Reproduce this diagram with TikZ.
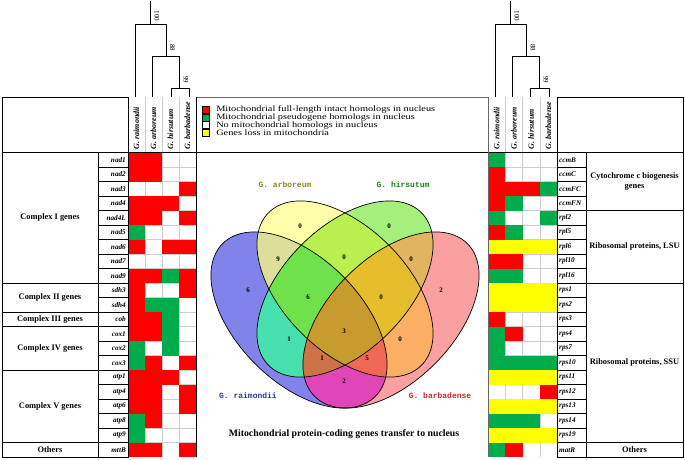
\documentclass[tikz,border=0pt]{standalone}
\usepackage{fontspec}
\setmainfont{Liberation Serif}
\setmonofont{Liberation Mono}
\definecolor{cR}{RGB}{255,0,0}
\definecolor{cG}{RGB}{0,172,75}
\definecolor{cY}{RGB}{255,255,0}
\definecolor{cW}{RGB}{255,255,255}
\definecolor{gridc}{RGB}{205,205,205}
\definecolor{vB}{RGB}{130,130,235}
\definecolor{vY}{RGB}{255,255,170}
\definecolor{vG}{RGB}{165,240,125}
\definecolor{vR}{RGB}{250,160,160}
\definecolor{vBY}{RGB}{222,222,155}
\definecolor{vBG}{RGB}{70,225,175}
\definecolor{vBR}{RGB}{225,70,185}
\definecolor{vYG}{RGB}{185,240,80}
\definecolor{vYR}{RGB}{250,175,100}
\definecolor{vGR}{RGB}{225,180,95}
\definecolor{vBYG}{RGB}{110,225,75}
\definecolor{vBYR}{RGB}{240,105,85}
\definecolor{vBGR}{RGB}{205,115,70}
\definecolor{vYGR}{RGB}{230,190,45}
\definecolor{vBYGR}{RGB}{200,155,45}
\definecolor{tArb}{RGB}{140,140,20}
\definecolor{tHir}{RGB}{20,130,20}
\definecolor{tRai}{RGB}{40,60,140}
\definecolor{tBar}{RGB}{190,40,40}
\newcommand{\hmcell}[4]{\if#2W\else\fill[c#2] (#1,#3) rectangle ++(#4,14.5);\fi}
\newcommand{\eB}[1]{\path[#1,rotate around={-45:(299,320)}] (299,320) ellipse [x radius=108pt,y radius=62pt];}
\newcommand{\eY}[1]{\path[#1,rotate around={-45:(345,289)}] (345,289) ellipse [x radius=108pt,y radius=62pt];}
\newcommand{\eG}[1]{\path[#1,rotate around={45:(345,289)}] (345,289) ellipse [x radius=108pt,y radius=62pt];}
\newcommand{\eR}[1]{\path[#1,rotate around={45:(391,320)}] (391,320) ellipse [x radius=108pt,y radius=62pt];}
\tikzset{
  genebox/.style={draw=black,line width=0.6pt},
  catbox/.style={draw=black,line width=1pt},
  genelbl/.style={font=\fontsize{7.2}{8}\selectfont\bfseries\itshape,inner sep=0pt},
  catlbl/.style={font=\fontsize{8.4}{10}\selectfont\bfseries,align=center,inner sep=0pt},
  hdrlbl/.style={font=\fontsize{8}{9}\selectfont\bfseries\itshape,rotate=90,anchor=west,inner sep=0pt},
  boot/.style={font=\fontsize{7}{8}\selectfont,rotate=-90,inner sep=0pt},
  leglbl/.style={font=\fontsize{8.2}{9}\selectfont,anchor=west,inner sep=0pt,xscale=1.26},
  legsq/.style={draw=black,line width=0.5pt,minimum size=7pt,inner sep=0pt},
  vnum/.style={font=\fontsize{7}{8}\selectfont\bfseries,inner sep=0pt},
  vlab/.style={font=\fontsize{8}{9}\selectfont\ttfamily\bfseries,inner sep=0pt},
  dend/.style={line width=0.9pt},
  gridl/.style={draw=gridc,line width=0.5pt},
  vline/.style={draw=black,line width=0.7pt}
}
\begin{document}
\begin{tikzpicture}[x=1pt,y=-1pt]
\useasboundingbox (0,0) rectangle (685,460);
% ---------- heatmap grids ----------
\foreach \x in {128,145,162,179} \draw[gridl] (\x,97) -- (\x,457);
\foreach \x in {505.25,522.5,539.75} \draw[gridl] (\x,97) -- (\x,457);
\foreach \n in {1,...,20}{
  \pgfmathsetmacro\yy{152.5+\n*14.5}
  \draw[gridl] (128,\yy) -- (196,\yy);
  \draw[gridl] (488,\yy) -- (557,\yy);
}
% ---------- left table ----------
\foreach \g/\ka/\kb/\kc/\kd [count=\i from 0] in {nad1/R/R/W/W,nad2/R/R/W/W,nad3/W/W/W/R,nad4/R/R/R/W,nad4L/R/R/W/R,nad5/G/W/W/W,nad6/R/W/R/R,nad7/W/W/W/W,nad9/R/R/G/R,sdh3/R/W/W/R,sdh4/R/G/G/W,cob/R/R/G/W,cox1/R/R/G/W,cox2/G/W/G/W,cox3/G/R/W/R,atp1/R/R/R/W,atp4/R/R/W/R,atp6/R/R/W/R,atp8/G/R/W/W,atp9/G/W/W/W,mttB/R/R/W/R}{
  \pgfmathsetmacro\yt{152.5+\i*14.5}
  \pgfmathsetmacro\ym{\yt+7.25}
  \hmcell{128}{\ka}{\yt}{17}
  \hmcell{145}{\kb}{\yt}{17}
  \hmcell{162}{\kc}{\yt}{17}
  \hmcell{179}{\kd}{\yt}{17}
  \draw[genebox] (98,\yt) rectangle ++(30,14.5);
  \node[genelbl,anchor=east] (L\i) at (126,\ym) {\g};
}
% ---------- right table ----------
\foreach \g/\ka/\kb/\kc/\kd [count=\i from 0] in {ccmB/G/W/W/W,ccmC/R/W/W/W,ccmFC/R/R/R/G,ccmFN/R/G/W/W,rpl2/G/W/W/G,rpl5/R/G/W/W,rpl6/Y/Y/Y/Y,rpl10/R/R/W/W,rpl16/G/G/W/W,rps1/Y/Y/Y/Y,rps2/Y/Y/Y/Y,rps3/R/W/W/W,rps4/G/R/W/W,rps7/G/W/W/W,rps10/G/G/G/G,rps11/Y/Y/Y/Y,rps12/W/W/W/R,rps13/Y/Y/Y/Y,rps14/G/G/G/W,rps19/Y/Y/Y/Y,matR/G/R/W/W}{
  \pgfmathsetmacro\yt{152.5+\i*14.5}
  \pgfmathsetmacro\ym{\yt+7.25}
  \hmcell{488}{\ka}{\yt}{17.25}
  \hmcell{505.25}{\kb}{\yt}{17.25}
  \hmcell{522.5}{\kc}{\yt}{17.25}
  \hmcell{539.75}{\kd}{\yt}{17.25}
  \draw[genebox] (557,\yt) rectangle ++(29,14.5);
  \node[genelbl,anchor=west] (R\i) at (559,\ym) {\g};
}
% ---------- category boxes ----------
\draw[catbox] (2,152.5) rectangle (98,283);
\draw[catbox] (2,283) rectangle (98,312);
\draw[catbox] (2,312) rectangle (98,326.5);
\draw[catbox] (2,326.5) rectangle (98,370);
\draw[catbox] (2,370) rectangle (98,442.5);
\draw[catbox] (2,442.5) rectangle (98,457);
\node[catlbl] (c1) at (50,217.75) {Complex I genes};
\node[catlbl] (c2) at (50,297.5) {Complex II genes};
\node[catlbl] (c3) at (50,319.25) {Complex III genes};
\node[catlbl] (c4) at (50,348.25) {Complex IV genes};
\node[catlbl] (c5) at (50,406.25) {Complex V genes};
\node[catlbl] (c6) at (50,449.75) {Others};
\draw[catbox] (586,152.5) rectangle (683,210.5);
\draw[catbox] (586,210.5) rectangle (683,283);
\draw[catbox] (586,283) rectangle (683,442.5);
\draw[catbox] (586,442.5) rectangle (683,457);
\node[catlbl] (d1) at (634.5,181.5) {Cytochrome c biogenesis\\genes};
\node[catlbl] (d2) at (634.5,246.75) {Ribosomal proteins, LSU};
\node[catlbl] (d3) at (634.5,362.75) {Ribosomal proteins, SSU};
\node[catlbl] (d4) at (634.5,449.75) {Others};
% ---------- header frames ----------
\draw[catbox] (2,97) rectangle (128,152.5);
\draw[catbox] (557,97) rectangle (683,152.5);
\draw[line width=1pt] (2,152.5) -- (683,152.5);
\draw[draw=black!60,line width=0.6pt] (196,97) -- (488,97);
\draw[line width=1pt] (196,97) -- (196,457);
\draw[draw=black!60,line width=0.6pt] (488,97) -- (488,457);
% ---------- column headers ----------
\node[hdrlbl] (h1) at (136.5,149.5) {G. raimondii};
\node[hdrlbl] (h2) at (153.5,149.5) {G. arboreum};
\node[hdrlbl] (h3) at (170.5,149.5) {G. hirsutum};
\node[hdrlbl] (h4) at (187.5,149.5) {G. barbadense};
\node[hdrlbl] (k1) at (496.6,149.5) {G. raimondii};
\node[hdrlbl] (k2) at (513.9,149.5) {G. arboreum};
\node[hdrlbl] (k3) at (531.1,149.5) {G. hirsutum};
\node[hdrlbl] (k4) at (548.4,149.5) {G. barbadense};
% ---------- dendrograms ----------
\draw[dend] (150,1) -- (150,24);
\draw[dend] (135,97) -- (135,24) -- (166,24) -- (166,56);
\draw[dend] (152,97) -- (152,56) -- (179,56) -- (179,88);
\draw[dend] (171,97) -- (171,88) -- (189,88) -- (189,97);
\node[boot] (b1) at (157,16) {100};
\node[boot] (b2) at (172.5,48) {88};
\node[boot] (b3) at (186,80) {99};
\draw[dend] (510,1) -- (510,24);
\draw[dend] (495,97) -- (495,24) -- (526,24) -- (526,56);
\draw[dend] (512,97) -- (512,56) -- (539,56) -- (539,88);
\draw[dend] (530,97) -- (530,88) -- (549,88) -- (549,97);
\node[boot] (e1) at (517,16) {100};
\node[boot] (e2) at (533,48) {88};
\node[boot] (e3) at (546,80) {99};
% ---------- legend ----------
\node[legsq,fill=cR] (s1) at (205.5,109.5) {};
\node[legsq,fill=cG] (s2) at (205.5,117.3) {};
\node[legsq,fill=cW] (s3) at (205.5,125.1) {};
\node[legsq,fill=cY] (s4) at (205.5,132.9) {};
\node[leglbl] (t1) at (216,109.5) {Mitochondrial full-length intact homologs in nucleus};
\node[leglbl] (t2) at (216,117.3) {Mitochondrial pseudogene homologs in nucleus};
\node[leglbl] (t3) at (216,125.1) {No mitochondrial homologs in nucleus};
\node[leglbl] (t4) at (216,132.9) {Genes loss in mitochondria};
% ---------- Venn: regions painted from single sets to all four ----------
\eB{fill=vB}
\eR{fill=vR}
\eY{fill=vY}
\eG{fill=vG}
\begin{scope}\eB{clip}\eY{fill=vBY}\end{scope}
\begin{scope}\eB{clip}\eG{fill=vBG}\end{scope}
\begin{scope}\eB{clip}\eR{fill=vBR}\end{scope}
\begin{scope}\eY{clip}\eG{fill=vYG}\end{scope}
\begin{scope}\eY{clip}\eR{fill=vYR}\end{scope}
\begin{scope}\eG{clip}\eR{fill=vGR}\end{scope}
\begin{scope}\eB{clip}\eY{clip}\eG{fill=vBYG}\end{scope}
\begin{scope}\eB{clip}\eY{clip}\eR{fill=vBYR}\end{scope}
\begin{scope}\eB{clip}\eG{clip}\eR{fill=vBGR}\end{scope}
\begin{scope}\eY{clip}\eG{clip}\eR{fill=vYGR}\end{scope}
\begin{scope}\eB{clip}\eY{clip}\eG{clip}\eR{fill=vBYGR}\end{scope}
\eB{vline}
\eY{vline}
\eG{vline}
\eR{vline}
\node[vnum] (n1) at (300,226) {0};
\node[vnum] (n2) at (389,226) {0};
\node[vnum] (n3) at (278,259) {9};
\node[vnum] (n4) at (344,257) {0};
\node[vnum] (n5) at (411,259) {0};
\node[vnum] (n6) at (248,290) {6};
\node[vnum] (n7) at (308,297) {6};
\node[vnum] (n8) at (381,297) {0};
\node[vnum] (n9) at (441,290) {2};
\node[vnum] (n10) at (289,339) {1};
\node[vnum] (n11) at (344,331) {3};
\node[vnum] (n12) at (400,339) {0};
\node[vnum] (n13) at (322,358) {1};
\node[vnum] (n14) at (367,358) {5};
\node[vnum] (n15) at (344,381) {2};
\node[vlab,text=tArb] (va) at (285,185) {G. arboreum};
\node[vlab,text=tHir] (vh) at (403,185) {G. hirsutum};
\node[vlab,text=tRai] (vr) at (248,396) {G. raimondii};
\node[vlab,text=tBar] (vb) at (440,396) {G. barbadense};
\node[font=\fontsize{9.8}{11}\selectfont\bfseries,inner sep=0pt] (title) at (344,434) {Mitochondrial protein-coding genes transfer to nucleus};
\end{tikzpicture}
\end{document}
